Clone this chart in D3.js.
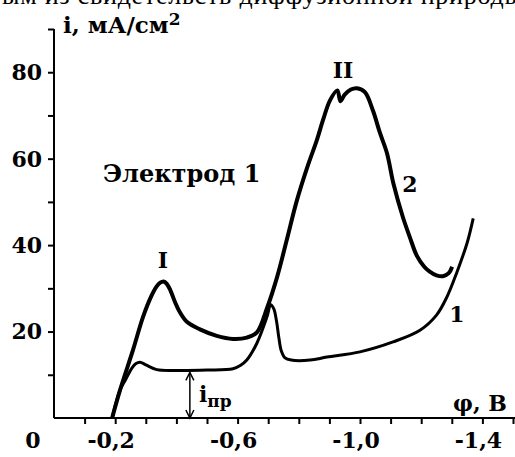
<!DOCTYPE html>
<html>
<head>
<meta charset="utf-8">
<script src="https://cdn.jsdelivr.net/npm/d3@7/dist/d3.min.js"></script>
<style>
  html, body { margin: 0; padding: 0; background: #fff; }
  svg { display: block; }
  text { font-family: "DejaVu Serif", serif; fill: #000; }
</style>
</head>
<body>
<script>
// ---- data (φ in V, i in mA/cm²) ----
const phi1 = [-0.19, -0.216, -0.232, -0.255, -0.268, -0.281, -0.30, -0.336, -0.40, -0.50, -0.585, -0.61, -0.63, -0.663, -0.696, -0.708, -0.718, -0.727, -0.735, -0.743, -0.755, -0.775, -0.837, -0.892, -1.0, -1.108, -1.196, -1.25, -1.284, -1.317, -1.35, -1.37];
const cur1 = [0, 6.5, 8.6, 11.6, 12.6, 12.9, 12.3, 11.2, 11.0, 11.1, 11.4, 12.2, 13.4, 17.3, 23.4, 26.2, 25.3, 22.5, 18.5, 15.5, 13.9, 13.4, 13.4, 14.1, 15.3, 17.6, 20.3, 23.8, 28.0, 33.8, 40.5, 46.2];

const phi2 = [-0.19, -0.216, -0.258, -0.291, -0.318, -0.335, -0.347, -0.358, -0.368, -0.38, -0.395, -0.412, -0.435, -0.477, -0.532, -0.585, -0.63, -0.663, -0.696, -0.729, -0.76, -0.794, -0.83, -0.859, -0.879, -0.902, -0.926, -0.936, -0.95, -0.97, -0.99, -1.016, -1.042, -1.065, -1.088, -1.11, -1.14, -1.163, -1.186, -1.21, -1.229, -1.25, -1.271, -1.29, -1.301];
const cur2 = [0, 6.5, 15.7, 23.4, 28.2, 30.4, 31.3, 31.6, 31.1, 29.6, 26.9, 24.4, 22.2, 20.5, 19.0, 18.3, 18.6, 19.8, 25.4, 32.6, 41.0, 50.4, 58.5, 64.3, 68.9, 73.5, 75.8, 73.3, 74.8, 76.0, 76.3, 75.4, 71.2, 66.0, 61.3, 54.0, 46.5, 41.8, 37.5, 35.0, 33.8, 33.0, 32.8, 33.5, 35.0];

const yTicks = [10, 20, 30, 40, 50, 60, 70, 80, 90];
const yLabels = [20, 40, 60, 80];
const xTicks = [-0.1, -0.2, -0.3, -0.4, -0.5, -0.6, -0.7, -0.8, -0.9, -1.0, -1.1, -1.2, -1.3, -1.4, -1.5];
const xLabels = [0, -0.2, -0.6, -1.0, -1.4];

const W = 515, H = 457;
const svg = d3.select("body").append("svg").attr("width", W).attr("height", H);

const x = d3.scaleLinear().domain([0, -1.5]).range([54, 513]);
const y = d3.scaleLinear().domain([0, 90]).range([418, 29]);

// clipped document text at very top
svg.append("text").attr("x", 2).attr("y", 4)
  .style("font-family", "'Liberation Serif', serif").style("font-size", "26px")
  .attr("textLength", 520).attr("lengthAdjust", "spacing")
  .text("ым из свидетельств диффузионной природы");

// axes
const yAxis = svg.append("g").attr("transform", `translate(${x(0)},0)`)
  .call(d3.axisLeft(y).tickValues(yTicks).tickSize(6).tickFormat(""));
const xAxis = svg.append("g").attr("transform", `translate(0,${y(0)})`)
  .call(d3.axisBottom(x).tickValues(xTicks).tickSize(6).tickFormat(""));
[yAxis, xAxis].forEach(a => {
  a.select(".domain").attr("stroke", "#000").attr("stroke-width", 2);
  a.selectAll(".tick line").attr("stroke", "#000").attr("stroke-width", 2);
});
yAxis.select(".domain").attr("d", `M0,${y(90)}V${y(0)}`);
xAxis.select(".domain").attr("d", `M${x(0)},0H${W}`);

// tick labels
svg.selectAll(".ylab").data(yLabels).enter().append("text")
  .attr("x", 42).attr("y", d => y(d)).attr("dy", "0.36em")
  .attr("text-anchor", "end").style("font-size", "22px").style("font-weight", "bold")
  .text(d => d);
const fmt = v => v === 0 ? "0" : d3.format(".1f")(v).replace(".", ",").replace("−", "-");
svg.selectAll(".xlab").data(xLabels).enter().append("text")
  .attr("x", d => d === 0 ? x(0) - 21 : x(d) - 4).attr("y", 448)
  .attr("text-anchor", "middle").style("font-size", "22px").style("font-weight", "bold")
  .text(fmt);

// axis titles
const yt = svg.append("text").attr("x", 63).attr("y", 33)
  .style("font-size", "23px").style("font-weight", "bold");
yt.append("tspan").text("i, мА/см");
yt.append("tspan").attr("dy", -8).style("font-size", "17px").text("2");
svg.append("text").attr("x", 453).attr("y", 411)
  .style("font-size", "22px").style("font-weight", "bold").text("φ, В");

// curves
const line = d3.line().x(d => x(d[0])).y(d => y(d[1])).curve(d3.curveCatmullRom.alpha(0.5));
svg.append("path").datum(phi1.map((p, i) => [p, cur1[i]]))
  .attr("d", line).attr("fill", "none").attr("stroke", "#000").attr("stroke-width", 3);
svg.append("path").datum(phi2.map((p, i) => [p, cur2[i]]))
  .attr("d", line).attr("fill", "none").attr("stroke", "#000").attr("stroke-width", 4);

// annotations
const ann = (t, px, py, fs) => svg.append("text").attr("x", px).attr("y", py)
  .attr("text-anchor", "middle").style("font-size", fs + "px").style("font-weight", "bold").text(t);
svg.append("text").attr("x", 103).attr("y", 182).style("font-size", "24px").style("font-weight", "bold").text("Электрод 1");
ann("I", 163, 268, 22);
ann("II", 343, 78, 22);
ann("2", 410, 192, 22);
ann("1", 457, 322, 22);

// i_пр arrow
const ax = x(-0.444), yTop = y(11.0) + 2, yBot = y(0);
svg.append("line").attr("x1", ax).attr("x2", ax).attr("y1", yTop).attr("y2", yBot)
  .attr("stroke", "#000").attr("stroke-width", 1.5);
svg.append("path").attr("d", `M${ax-4},${yTop+8}L${ax},${yTop}L${ax+4},${yTop+8}`).attr("fill", "none").attr("stroke", "#000").attr("stroke-width", 1.5);
svg.append("path").attr("d", `M${ax-4},${yBot-8}L${ax},${yBot}L${ax+4},${yBot-8}`).attr("fill", "none").attr("stroke", "#000").attr("stroke-width", 1.5);
const ip = svg.append("text").attr("x", 199).attr("y", 402).style("font-size", "22px").style("font-weight", "bold");
ip.append("tspan").text("i");
ip.append("tspan").attr("dy", 5).style("font-size", "17px").text("пр");
</script>
</body>
</html>
